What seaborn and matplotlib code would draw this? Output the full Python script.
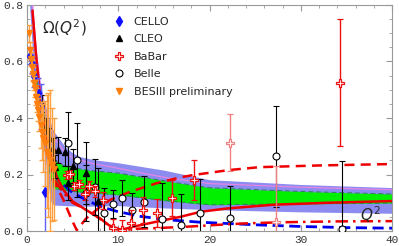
import numpy as np
import matplotlib
matplotlib.use("Agg")
import matplotlib.pyplot as plt
import seaborn as sns
from matplotlib.lines import Line2D
from matplotlib.ticker import MultipleLocator, FormatStrFormatter

# Banda azul (limites superior / inferior)
blueUpX = [0.66, 1.0, 1.42, 2.0, 2.5, 3.0, 4.2, 5.0, 5.8, 7.5, 10, 15, 20, 30, 40]
blueUpY = [0.80, 0.66, 0.534, 0.45, 0.393, 0.35, 0.298, 0.276, 0.262, 0.25, 0.24, 0.214, 0.18, 0.163, 0.152]
blueLoX = [0.33, 0.6, 0.88, 1.2, 1.42, 1.8, 2.1, 2.34, 2.7, 3.0, 5, 7, 10, 15, 20, 30, 40]
blueLoY = [0.80, 0.66, 0.534, 0.44, 0.393, 0.31, 0.25, 0.17, 0.1, 0.09, 0.087, 0.086, 0.088, 0.08, 0.074, 0.066, 0.061]

# Banda verde
greenX = [1.0, 1.5, 2.0, 2.5, 3.0, 4, 5, 7, 10, 15, 20, 30, 40]
greenUpY = [0.60, 0.47, 0.39, 0.31, 0.25, 0.232, 0.224, 0.214, 0.205, 0.178, 0.153, 0.14, 0.131]
greenLoY = [0.52, 0.42, 0.34, 0.20, 0.15, 0.145, 0.14, 0.135, 0.128, 0.108, 0.093, 0.096, 0.099]

# Linha rosa
pinkX = [0.62, 1.0, 1.5, 2.0, 2.6, 3.0, 4, 5, 7, 10, 15, 20, 30, 40]
pinkY = [0.80, 0.64, 0.51, 0.43, 0.37, 0.33, 0.285, 0.258, 0.24, 0.222, 0.19, 0.168, 0.155, 0.146]

# Curvas vermelhas e azul tracejada
redX = [0.6, 1.0, 1.5, 2.0, 2.5, 3.25, 4, 5, 6.5, 8, 9, 10.3, 11.6, 14.2, 16.8, 19, 22, 27, 33, 40]
redY = [0.78, 0.62, 0.46, 0.35, 0.287, 0.192, 0.145, 0.105, 0.074, 0.045, 0.02, 0.004, 0.015, 0.033, 0.05, 0.068, 0.08, 0.093, 0.1, 0.106]
redDashX = [2.2, 2.9, 4.0, 4.9, 5.45, 6.5, 8.0, 9.1, 11.3, 14.2, 16.8, 18.2, 22.2, 25.5, 32, 40]
redDashY = [0.30, 0.18, 0.11, 0.04, 0.003, 0.045, 0.085, 0.11, 0.139, 0.169, 0.19, 0.198, 0.216, 0.226, 0.232, 0.237]
redDotX = [3.0, 4.0, 5.0, 6.5, 7.5, 8.5, 9.5, 10.5, 12, 14, 16, 18, 21, 24, 28, 34, 40]
redDotY = [0.18, 0.135, 0.1, 0.075, 0.055, 0.03, 0.008, 0.003, 0.008, 0.01, 0.013, 0.016, 0.022, 0.027, 0.031, 0.034, 0.035]
blueDashX = [3.0, 3.4, 5, 6.5, 8, 9.8, 12.4, 15.3, 19, 25, 30, 35, 40]
blueDashY = [0.21, 0.18, 0.135, 0.11, 0.087, 0.07, 0.052, 0.04, 0.031, 0.022, 0.016, 0.012, 0.01]

# Dados experimentais
celloX = [0.3, 0.54, 0.8, 1.17, 1.5, 1.97]
celloY = [0.62, 0.59, 0.55, 0.49, 0.44, 0.139]
celloErr = [0.03, 0.03, 0.04, 0.05, 0.08, 0.16]

cleoX = [1.64, 2.03, 2.43, 2.83, 3.07, 3.44, 4.16, 4.53, 5.07, 6.47, 7.8]
cleoY = [0.45, 0.37, 0.33, 0.29, 0.228, 0.287, 0.28, 0.17, 0.229, 0.205, 0.105]
cleoErr = [0.03, 0.03, 0.035, 0.04, 0.04, 0.045, 0.05, 0.06, 0.06, 0.11, 0.117]

babarX = [4.35, 4.71, 5.15, 5.73, 6.4, 6.74, 7.45, 8.36, 9.46, 10.46, 11.4, 12.75, 14.2, 15.9, 18.3, 34.3]
babarY = [0.198, 0.202, 0.16, 0.166, 0.131, 0.158, 0.14, 0.108, 0.012, 0.004, 0.027, 0.075, 0.063, 0.116, 0.18, 0.525]
babarErr = [0.015, 0.015, 0.015, 0.015, 0.02, 0.02, 0.02, 0.03, 0.03, 0.035, 0.047, 0.046, 0.05, 0.064, 0.07, 0.225]
babarLightX = [22.2, 27.3]
babarLightY = [0.313, 0.031]
babarLightErr = [0.1, 0.2]

belleX = [4.46, 5.44, 6.47, 7.47, 8.4, 9.39, 10.4, 11.5, 12.86, 14.76, 16.9, 18.96, 22.2, 27.3, 34.5]
belleY = [0.31, 0.251, 0.135, 0.156, 0.063, 0.096, 0.117, 0.076, 0.104, 0.041, 0.021, 0.063, 0.045, 0.264, 0.007]
belleErr = [0.11, 0.13, 0.1, 0.1, 0.09, 0.05, 0.065, 0.06, 0.09, 0.128, 0.11, 0.12, 0.115, 0.18, 0.24]

besX = [0.25, 0.33, 0.45, 0.55, 0.65, 0.75, 0.88, 0.99, 1.1, 1.2, 1.35, 1.5, 1.65, 1.8, 1.97, 2.16, 2.35, 2.55, 2.75, 3.0]
besY = [0.70, 0.64, 0.61, 0.58, 0.555, 0.525, 0.505, 0.475, 0.45, 0.43, 0.405, 0.375, 0.35, 0.33, 0.31, 0.28, 0.27, 0.25, 0.235, 0.22]
besErr = [0.03, 0.03, 0.025, 0.025, 0.025, 0.025, 0.03, 0.03, 0.03, 0.04, 0.05, 0.08, 0.1, 0.12, 0.15, 0.2, 0.22, 0.25, 0.2, 0.18]

legendLabels = ["CELLO", "CLEO", "BaBar", "Belle", "BESIII preliminary"]

sns.set_style("ticks")
plt.rcParams['font.family'] = ['DejaVu Sans']
plt.rcParams['mathtext.fontset'] = 'dejavusans'

fig = plt.figure(figsize=(3.99, 2.46), dpi=100)
ax = fig.add_axes([27/399, 1 - 231/246, 365/399, 226/246])

# Bandas
ax.fill(np.concatenate([blueUpX, blueLoX[::-1]]), np.concatenate([blueUpY, blueLoY[::-1]]),
        color='#8c8cf0', lw=0, zorder=1)
ax.fill_between(greenX, greenLoY, greenUpY, color='#00f000', lw=0, zorder=2)
sns.lineplot(x=greenX, y=greenUpY, ax=ax, color='#2e7d5a', lw=0.7, linestyle=(0, (5, 3)), sort=False, zorder=2.5)
sns.lineplot(x=greenX, y=greenLoY, ax=ax, color='#2e7d5a', lw=0.7, linestyle=(0, (5, 3)), sort=False, zorder=2.5)
sns.lineplot(x=pinkX, y=pinkY, ax=ax, color='#e585e5', lw=0.9, sort=False, zorder=3)

# Curvas
sns.lineplot(x=blueDashX, y=blueDashY, ax=ax, color='#0000ee', lw=2, linestyle=(0, (4, 2)), sort=False, zorder=4)
sns.lineplot(x=redDashX, y=redDashY, ax=ax, color='#ee0000', lw=1.8, linestyle=(0, (4, 2.5)), sort=False, zorder=4)
sns.lineplot(x=redDotX, y=redDotY, ax=ax, color='#ee0000', lw=1.8, linestyle=(0, (5, 2, 1, 2)), sort=False, zorder=4)
sns.lineplot(x=redX, y=redY, ax=ax, color='#ee0000', lw=1.8, sort=False, zorder=4)

# Dados
ax.errorbar(belleX, belleY, yerr=belleErr, fmt='o', ms=5, mfc='white', mec='black', mew=0.8,
            ecolor='black', elinewidth=0.8, capsize=2, capthick=0.8, zorder=6)
ax.errorbar(babarLightX, babarLightY, yerr=babarLightErr, fmt='P', ms=5.5, mfc='white', mec='#f08080', mew=0.9,
            ecolor='#f08080', elinewidth=1, capsize=2, capthick=1, zorder=6)
ax.errorbar(babarX, babarY, yerr=babarErr, fmt='P', ms=5.5, mfc='white', mec='#ee1111', mew=0.9,
            ecolor='#ee1111', elinewidth=1, capsize=2, capthick=1, zorder=7)
ax.errorbar(cleoX, cleoY, yerr=cleoErr, fmt='^', ms=5, color='black',
            elinewidth=0.8, capsize=2, capthick=0.8, zorder=7)
ax.errorbar(celloX, celloY, yerr=celloErr, fmt='d', ms=5, color='#1010ff', ecolor='#6060ff',
            elinewidth=1, capsize=2, capthick=1, zorder=7)
ax.errorbar(besX, besY, yerr=besErr, fmt='v', ms=4, color='#ff7f0e', ecolor='#ffa040',
            elinewidth=1, capsize=2, capthick=1, zorder=8)

# Textos
ax.text(1.6, 0.72, r"$\Omega(Q^2)$", fontsize=11, va='center', zorder=9)
ax.text(37.6, 0.057, r"$Q^2$", fontsize=11, ha='center', va='center', zorder=9)

# Legenda (so marcadores)
handles = [
    Line2D([], [], ls='none', marker='d', ms=5, color='#1010ff'),
    Line2D([], [], ls='none', marker='^', ms=5, color='black'),
    Line2D([], [], ls='none', marker='P', ms=5.5, mfc='white', mec='#ee1111', mew=0.9),
    Line2D([], [], ls='none', marker='o', ms=5, mfc='white', mec='black', mew=0.8),
    Line2D([], [], ls='none', marker='v', ms=4, color='#ff7f0e'),
]
ax.legend(handles, legendLabels, loc='upper left', bbox_to_anchor=(0.225, 0.968), frameon=False,
          fontsize=8, handlelength=1, handletextpad=0.8, labelspacing=0.68, borderaxespad=0)

# Eixos
ax.set_xlim(0, 40)
ax.set_ylim(0, 0.8)
ax.xaxis.set_major_locator(MultipleLocator(10))
ax.xaxis.set_minor_locator(MultipleLocator(2))
ax.yaxis.set_major_locator(MultipleLocator(0.2))
ax.yaxis.set_minor_locator(MultipleLocator(0.05))
ax.yaxis.set_major_formatter(FormatStrFormatter('%.1f'))
ax.tick_params(which='both', direction='in', top=True, right=True, color='#999999')
ax.tick_params(which='major', length=4, width=0.8, labelsize=8, pad=3)
ax.tick_params(which='minor', length=2, width=0.6)
for lab in ax.get_xticklabels() + ax.get_yticklabels():
    lab.set_family('Liberation Mono')
    lab.set_color('#333333')
for s in ax.spines.values():
    s.set_color('#999999')
    s.set_linewidth(0.8)
ax.set_xlabel('')
ax.set_ylabel('')

plt.savefig('out.png', dpi=100)
